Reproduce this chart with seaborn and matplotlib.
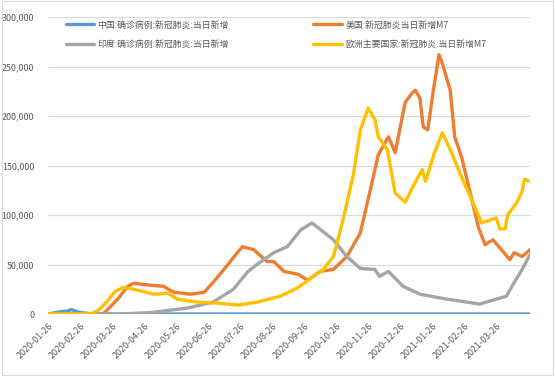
import matplotlib
matplotlib.use("Agg")
import matplotlib.pyplot as plt
import matplotlib.ticker as mticker
from matplotlib.patches import Rectangle
import seaborn as sns
import numpy as np

# x = days since 2020-01-26
cn_days = [0, 6, 11, 16, 20, 22, 26, 31, 37, 45, 428]
cn_vals = [0, 1500, 2500, 3000, 4500, 3500, 2000, 1000, 300, 0, 0]

us_days = [0, 46, 49, 55, 61, 70, 75, 91, 102, 106, 111, 126, 138, 146, 157, 164, 172,
           182, 194, 200, 209, 222, 230, 241, 253, 265, 277, 286, 293, 302, 308, 312,
           317, 323, 326, 330, 333, 337, 342, 347, 350, 357, 361, 367, 374, 382, 388,
           395, 401, 410, 414, 421, 428]
us_vals = [0, 0, 1000, 8000, 15000, 28000, 31000, 29000, 28000, 25000, 22000, 20000,
           22000, 32000, 47000, 57000, 68000, 65000, 53000, 53000, 43000, 40000, 34000,
           43000, 45000, 58000, 82000, 126000, 161000, 179000, 163000, 186000, 214000,
           223000, 226000, 218000, 189000, 186000, 226000, 262000, 253000, 226000,
           179000, 159000, 126000, 88000, 70000, 75000, 67000, 55000, 62000, 58000, 65000]

in_days = [0, 64, 91, 123, 146, 164, 177, 185, 200, 212, 224, 234, 244, 253, 265, 277,
           290, 294, 302, 315, 330, 354, 372, 383, 398, 407, 414, 421, 428]
in_vals = [0, 0, 1500, 6000, 12000, 25000, 43000, 50000, 62000, 68000, 85000, 92000,
           83000, 75000, 58000, 46000, 45000, 38000, 43000, 28000, 20000, 15000, 12000,
           10000, 15000, 18000, 32000, 45000, 60000]

eu_days = [0, 37, 44, 51, 59, 66, 79, 93, 106, 114, 132, 150, 168, 185, 206, 222, 244,
           253, 262, 271, 277, 284, 290, 293, 301, 308, 317, 324, 332, 335, 343, 350,
           357, 368, 377, 385, 398, 401, 406, 408, 416, 421, 423, 428]
eu_vals = [0, 0, 4000, 12000, 23000, 27000, 24000, 20000, 21000, 15000, 12000, 11000,
           9000, 12000, 18000, 27000, 45000, 58000, 97000, 142000, 186000, 208000,
           196000, 179000, 166000, 122000, 113000, 129000, 146000, 134000, 163000,
           183000, 166000, 136000, 113000, 92000, 97000, 86000, 86000, 100000, 112000,
           124000, 136000, 134000]

series = [
    ("中国:确诊病例:新冠肺炎:当日新增", cn_days, cn_vals, "#5B9BD5"),
    ("美国:新冠肺炎当日新增M7", us_days, us_vals, "#ED7D31"),
    ("印度:确诊病例:新冠肺炎:当日新增", in_days, in_vals, "#A5A5A5"),
    ("欧洲主要国家:新冠肺炎:当日新增M7", eu_days, eu_vals, "#FFC000"),
]

tick_labels = ["2020-01-26", "2020-02-26", "2020-03-26", "2020-04-26", "2020-05-26",
               "2020-06-26", "2020-07-26", "2020-08-26", "2020-09-26", "2020-10-26",
               "2020-11-26", "2020-12-26", "2021-01-26", "2021-02-26", "2021-03-26"]
month_days = [0, 31, 60, 91, 121, 152, 182, 213, 244, 274, 305, 335, 366, 397, 425]

sns.set_style("white")
plt.rcParams["font.family"] = ["Noto Sans CJK SC", "DejaVu Sans"]

fig = plt.figure(figsize=(5.55, 3.76), dpi=100)
ax = fig.add_axes([48 / 555, 1 - 314 / 376, (530 - 48) / 555, (314 - 17) / 376])

for name, d, v, c in series:
    sns.lineplot(x=d, y=v, ax=ax, color=c, linewidth=2.4, label=name)

ax.set_xlim(0, 428)
ax.set_ylim(0, 300000)
ax.yaxis.set_major_locator(mticker.MultipleLocator(50000))
ax.yaxis.set_major_formatter(mticker.FuncFormatter(lambda v, p: f"{int(v):,}"))
ax.grid(axis="y", color="#D9D9D9", linewidth=0.9)
ax.set_axisbelow(True)
for s in ax.spines.values():
    s.set_visible(False)

ax.set_xticks(np.linspace(-1, 398, len(tick_labels)))
ax.set_xticklabels(tick_labels, rotation=45, ha="right", rotation_mode="anchor")
ax.set_xticks(month_days, minor=True)
ax.tick_params(axis="x", which="major", length=0, pad=5, labelsize=6.4, labelcolor="#595959")
ax.tick_params(axis="x", which="minor", length=3, color="#D9D9D9", width=0.8)
ax.tick_params(axis="y", length=0, pad=10, labelsize=6.4, labelcolor="#595959")

h, l = ax.get_legend_handles_labels()
order = [0, 2, 1, 3]
ax.legend([h[i] for i in order], [l[i] for i in order], ncol=2,
          loc="upper left", bbox_to_anchor=(0.02, 1.015), frameon=False,
          fontsize=6.4, labelcolor="#595959", handlelength=3.2,
          handletextpad=0.4, columnspacing=9.5, labelspacing=1.15)

fig.patches.append(Rectangle((0.003, 0.003), 0.994, 0.994, transform=fig.transFigure,
                             fill=False, edgecolor="#D9D9D9", linewidth=0.8))
fig.savefig("out.png", dpi=100)
